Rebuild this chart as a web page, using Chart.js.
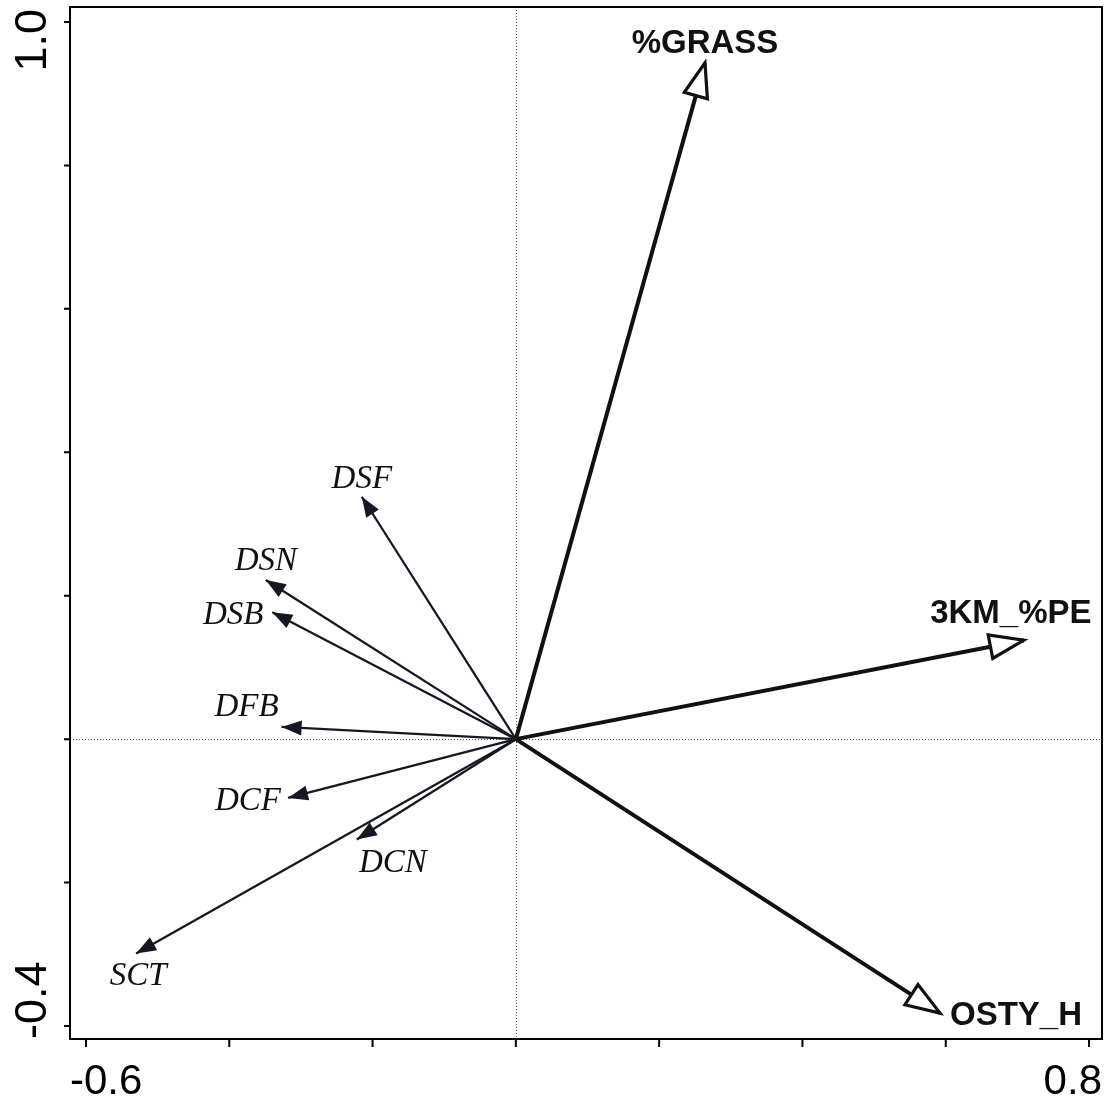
<!DOCTYPE html>
<html>
<head>
<meta charset="utf-8">
<script src="https://cdn.jsdelivr.net/npm/chart.js@4.4.1/dist/chart.umd.min.js"></script>
<style>
  html, body { margin: 0; padding: 0; background: #ffffff; }
  #wrap { width: 1109px; height: 1105px; }
</style>
</head>
<body>
<div id="wrap"><canvas id="c" width="1109" height="1105"></canvas></div>
<script>
// ---- Data ----
const speciesNames = ['DSF', 'DSN', 'DSB', 'DFB', 'DCF', 'DCN', 'SCT'];
const speciesX = [-0.215, -0.349, -0.340, -0.327, -0.318, -0.222, -0.530];
const speciesY = [0.338, 0.222, 0.177, 0.017, -0.082, -0.140, -0.299];

const envNames = ['%GRASS', '3KM_%PE', 'OSTY_H'];
const envX = [0.264, 0.709, 0.592];
const envY = [0.943, 0.138, -0.382];

const xTicks = [-0.6, -0.4, -0.2, 0.0, 0.2, 0.4, 0.6, 0.8];
const yTicks = [-0.4, -0.2, 0.0, 0.2, 0.4, 0.6, 0.8, 1.0];
const xTickLabels = ['-0.6', '', '', '', '', '', '', '0.8'];
const yTickLabels = ['-0.4', '', '', '', '', '', '', '1.0'];

// ---- Label placement (pixel offsets from arrow tip to the caps centre) ----
const speciesLabelOffset = {
  DSF: [0, -20], DSN: [0, -21], DSB: [-39, 1], DFB: [-35, -22],
  DCF: [-40, 1], DCN: [36, 21], SCT: [2, 20]
};
const envLabelOffset = {
  '%GRASS': [0, -22, 'center'], '3KM_%PE': [-13, -29, 'center'], 'OSTY_H': [10, 0, 'left']
};

const speciesColor = '#131822';
const envColor = '#111111';

const datasets = [];
speciesNames.forEach((n, i) => {
  datasets.push({
    label: n, kind: 'species',
    data: [{x: 0, y: 0}, {x: speciesX[i], y: speciesY[i]}],
    showLine: true, borderColor: speciesColor, borderWidth: 2.3,
    pointRadius: 0, pointHoverRadius: 0, fill: false
  });
});
envNames.forEach((n, i) => {
  datasets.push({
    label: n, kind: 'env',
    data: [{x: 0, y: 0}, {x: envX[i], y: envY[i]}],
    showLine: true, borderColor: envColor, borderWidth: 4,
    pointRadius: 0, pointHoverRadius: 0, fill: false
  });
});

const zeroLines = {
  id: 'zeroLines',
  beforeDatasetsDraw(chart) {
    const {ctx, chartArea: a, scales: {x, y}} = chart;
    ctx.save();
    ctx.strokeStyle = '#555555';
    ctx.lineWidth = 1;
    ctx.setLineDash([1, 2]);
    const x0 = Math.round(x.getPixelForValue(0)) + 0.5;
    const y0 = Math.round(y.getPixelForValue(0)) + 0.5;
    ctx.beginPath();
    ctx.moveTo(x0, a.top); ctx.lineTo(x0, a.bottom);
    ctx.moveTo(a.left, y0); ctx.lineTo(a.right, y0);
    ctx.stroke();
    ctx.restore();
  }
};

function headGeom(x0, y0, x1, y1, len, half) {
  const dx = x1 - x0, dy = y1 - y0;
  const L = Math.hypot(dx, dy);
  const ux = dx / L, uy = dy / L;
  const bx = x1 - ux * len, by = y1 - uy * len;
  return [[x1, y1], [bx - uy * half, by + ux * half], [bx + uy * half, by - ux * half]];
}

const arrowsAndLabels = {
  id: 'arrowsAndLabels',
  afterDatasetsDraw(chart) {
    const {ctx, scales: {x, y}} = chart;
    const ox = x.getPixelForValue(0), oy = y.getPixelForValue(0);
    ctx.save();
    // species heads (filled)
    speciesNames.forEach((n, i) => {
      const tx = x.getPixelForValue(speciesX[i]), ty = y.getPixelForValue(speciesY[i]);
      const g = headGeom(ox, oy, tx, ty, 20, 7.5);
      ctx.fillStyle = speciesColor;
      ctx.beginPath();
      ctx.moveTo(g[0][0], g[0][1]); ctx.lineTo(g[1][0], g[1][1]); ctx.lineTo(g[2][0], g[2][1]);
      ctx.closePath(); ctx.fill();
      const off = speciesLabelOffset[n];
      ctx.font = 'italic 33px "Liberation Serif", "Times New Roman", serif';
      ctx.fillStyle = '#111111';
      ctx.textAlign = 'center';
      ctx.textBaseline = 'alphabetic';
      ctx.fillText(n, tx + off[0], ty + off[1] + 11);
    });
    // env heads (open)
    envNames.forEach((n, i) => {
      const tx = x.getPixelForValue(envX[i]), ty = y.getPixelForValue(envY[i]);
      const g = headGeom(ox, oy, tx, ty, 34, 12);
      ctx.fillStyle = '#ffffff';
      ctx.strokeStyle = envColor;
      ctx.lineWidth = 3.2;
      ctx.lineJoin = 'miter';
      ctx.beginPath();
      ctx.moveTo(g[0][0], g[0][1]); ctx.lineTo(g[1][0], g[1][1]); ctx.lineTo(g[2][0], g[2][1]);
      ctx.closePath(); ctx.fill(); ctx.stroke();
      const off = envLabelOffset[n];
      ctx.font = 'bold 33px "Liberation Sans", Arial, sans-serif';
      ctx.fillStyle = '#111111';
      ctx.textAlign = off[2];
      ctx.textBaseline = 'alphabetic';
      ctx.fillText(n, tx + off[0], ty + off[1] + 12);
    });
    ctx.restore();
  },
  afterDraw(chart) {
    const {ctx, chartArea: a, scales: {x, y}} = chart;
    ctx.save();
    // box
    ctx.strokeStyle = '#000000';
    ctx.lineWidth = 2;
    ctx.strokeRect(a.left, a.top, a.right - a.left, a.bottom - a.top);
    // tick marks
    ctx.lineWidth = 2;
    ctx.beginPath();
    xTicks.forEach(v => {
      const px = x.getPixelForValue(v);
      ctx.moveTo(px, a.bottom); ctx.lineTo(px, a.bottom + 8);
    });
    yTicks.forEach(v => {
      const py = y.getPixelForValue(v);
      ctx.moveTo(a.left, py); ctx.lineTo(a.left - 6, py);
    });
    ctx.stroke();
    // tick labels (end labels aligned inward to the frame)
    ctx.fillStyle = '#000000';
    ctx.font = '42px "Liberation Sans", Arial, sans-serif';
    ctx.textBaseline = 'alphabetic';
    xTicks.forEach((v, i) => {
      const t = xTickLabels[i];
      if (!t) return;
      if (i === 0) { ctx.textAlign = 'left'; ctx.fillText(t, a.left, 1094); }
      else if (i === xTicks.length - 1) { ctx.textAlign = 'right'; ctx.fillText(t, a.right, 1094); }
      else { ctx.textAlign = 'center'; ctx.fillText(t, x.getPixelForValue(v), 1094); }
    });
    ctx.font = '45px "Liberation Sans", Arial, sans-serif';
    yTicks.forEach((v, i) => {
      const t = yTickLabels[i];
      if (!t) return;
      ctx.save();
      ctx.translate(46, 0);
      ctx.rotate(-Math.PI / 2);
      if (i === 0) { ctx.textAlign = 'left'; ctx.fillText(t, -a.bottom, 0); }
      else if (i === yTicks.length - 1) { ctx.textAlign = 'right'; ctx.fillText(t, -a.top - 2, 0); }
      else { ctx.textAlign = 'center'; ctx.fillText(t, -y.getPixelForValue(v), 0); }
      ctx.restore();
    });
    ctx.restore();
  }
};

new Chart(document.getElementById('c'), {
  type: 'scatter',
  data: { datasets },
  options: {
    responsive: false,
    animation: false,
    devicePixelRatio: 1,
    layout: { padding: { top: 7, right: 7, left: 0, bottom: 0 } },
    plugins: { legend: { display: false }, tooltip: { enabled: false } },
    scales: {
      x: {
        type: 'linear', min: -0.6223, max: 0.8181,
        grid: { display: false },
        border: { display: false },
        ticks: { display: false },
        afterFit: s => { s.height = 66; }
      },
      y: {
        type: 'linear', min: -0.4181, max: 1.0209,
        grid: { display: false },
        border: { display: false },
        ticks: { display: false },
        afterFit: s => { s.width = 70; }
      }
    }
  },
  plugins: [zeroLines, arrowsAndLabels]
});
</script>
</body>
</html>
